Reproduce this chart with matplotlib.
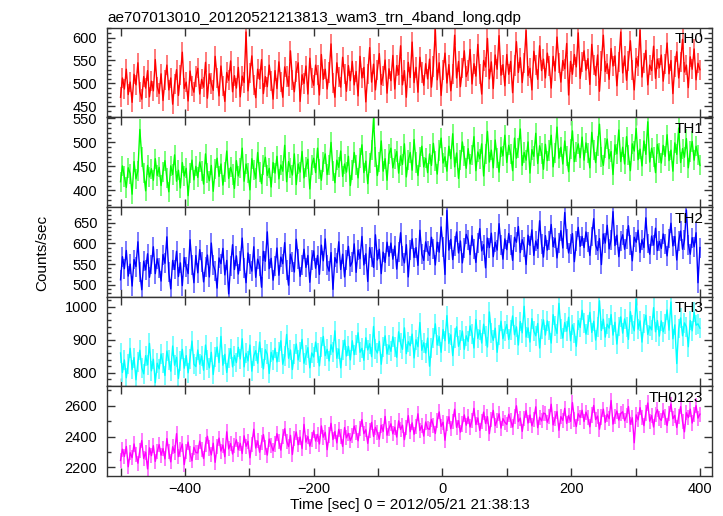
import numpy as np
import matplotlib
matplotlib.use('Agg')
import matplotlib.pyplot as plt
from matplotlib.ticker import MultipleLocator

plt.rcParams['font.family'] = ['Liberation Sans', 'DejaVu Sans']

# light curve, 3 s bins starting at t = -500 s
t_start = -500
t_bin = 3

th0 = [470, 512, 488, 531, 476, 503, 459, 520, 497, 545, 482, 466, 515, 490, 528, 471, 505, 484, 552, 493,
       478, 521, 463, 507, 540, 486, 512, 455, 499, 530, 474, 519, 568, 489, 503, 462, 527, 495, 481, 515,
       533, 477, 509, 492, 546, 468, 521, 500, 485, 559, 512, 473, 538, 495, 461, 524, 507, 549, 482, 517,
       490, 535, 471, 516, 502, 612, 484, 523, 560, 497, 469, 531, 509, 552, 478, 515, 493, 540, 505, 466,
       528, 489, 547, 503, 470, 536, 515, 494, 571, 508, 482, 526, 545, 461, 519, 500, 538, 477, 555, 512,
       496, 540, 518, 475, 563, 509, 531, 488, 524, 586, 501, 470, 545, 514, 492, 557, 520, 483, 539, 506,
       548, 497, 526, 473, 559, 512, 535, 460, 520, 578, 503, 542, 486, 529, 565, 498, 517, 551, 479, 532,
       506, 561, 488, 539, 519, 582, 497, 528, 470, 546, 513, 590, 502, 535, 481, 557, 524, 496, 543, 510,
       553, 492, 537, 618, 508, 545, 474, 529, 566, 501, 541, 484, 520, 605, 512, 548, 493, 533, 571, 515,
       528, 574, 499, 543, 516, 585, 521, 477, 550, 536, 598, 510, 547, 489, 562, 531, 604, 518, 541, 495,
       563, 520, 548, 480, 539, 591, 524, 556, 502, 545, 615, 517, 533, 486, 570, 541, 509, 582, 528, 553,
       512, 566, 538, 490, 559, 527, 601, 544, 503, 550, 532, 587, 475, 548, 520, 563, 536, 610, 511, 546,
       571, 529, 554, 498, 585, 540, 517, 562, 483, 549, 605, 526, 543, 509, 576, 538, 560, 495, 547, 612,
       523, 560, 507, 549, 593, 530, 486, 555, 538, 616, 514, 545, 572, 497, 540, 528, 581, 511, 553, 534,
       562, 505, 543, 588, 521, 550, 478, 537, 569, 512, 546, 596, 525, 540, 491, 558, 531, 575, 508, 544,
       530]

th1 = [418, 451, 429, 406, 447, 435, 392, 460, 424, 441, 527, 470, 437, 399, 452, 428, 445, 421, 466, 431,
       448, 410, 439, 462, 425, 397, 451, 433, 474, 419, 442, 405, 458, 430, 446, 389, 437, 463, 422, 450,
       427, 459, 441, 413, 476, 436, 420, 452, 398, 444, 467, 429, 455, 411, 439, 482, 425, 448, 433, 404,
       462, 430, 447, 488, 419, 455, 437, 401, 466, 443, 425, 479, 438, 414, 452, 469, 431, 446, 407, 458,
       436, 471, 424, 453, 440, 494, 418, 460, 447, 432, 476, 412, 455, 438, 481, 426, 449, 465, 403, 452,
       467, 437, 488, 445, 421, 459, 476, 433, 452, 500, 441, 416, 463, 448, 482, 429, 455, 438, 471, 410,
       443, 479, 452, 426, 468, 495, 437, 461, 414, 457, 484, 550, 470, 431, 459, 503, 440, 466, 421, 475,
       488, 447, 465, 481, 436, 472, 454, 497, 428, 463, 479, 442, 506, 458, 431, 470, 492, 449, 467, 437,
       476, 452, 498, 461, 434, 483, 509, 457, 470, 440, 492, 466, 518, 449, 478, 425, 463, 501, 471, 446,
       487, 455, 473, 512, 441, 480, 466, 497, 430, 476, 523, 459, 484, 447, 505, 468, 438, 490, 472, 515,
       458, 494, 476, 441, 509, 467, 488, 528, 452, 479, 463, 501, 436, 485, 471, 519, 456, 493, 477, 444,
       496, 462, 483, 515, 449, 478, 532, 467, 490, 455, 503, 471, 439, 486, 524, 460, 480, 497, 468, 511,
       463, 499, 478, 447, 521, 484, 458, 493, 538, 470, 452, 489, 507, 466, 481, 433, 495, 476, 526, 460,
       490, 455, 512, 473, 441, 497, 482, 529, 464, 486, 451, 503, 475, 543, 459, 488, 470, 437, 496, 478,
       457, 494, 471, 516, 462, 484, 440, 499, 475, 530, 458, 487, 469, 508, 447, 481, 502, 463, 492, 474,
       452]

th2 = [512, 568, 539, 583, 521, 550, 497, 561, 544, 604, 530, 488, 557, 536, 575, 518, 549, 592, 527, 563,
       541, 509, 573, 552, 616, 530, 490, 559, 537, 581, 520, 553, 498, 566, 544, 527, 609, 548, 505, 571,
       529, 585, 556, 507, 543, 572, 519, 601, 548, 534, 492, 565, 551, 588, 524, 559, 478, 546, 597, 537,
       570, 526, 558, 613, 541, 505, 577, 550, 533, 592, 518, 562, 546, 494, 581, 557, 628, 539, 564, 511,
       545, 589, 523, 567, 551, 602, 536, 499, 574, 555, 531, 610, 563, 520, 548, 586, 542, 571, 506, 559,
       582, 540, 571, 525, 596, 558, 611, 547, 533, 578, 489, 566, 553, 604, 537, 574, 519, 560, 593, 545,
       556, 599, 530, 584, 563, 617, 548, 575, 508, 590, 567, 542, 621, 560, 586, 527, 579, 554, 603, 569,
       601, 562, 594, 538, 579, 626, 570, 553, 597, 519, 584, 611, 566, 590, 547, 632, 575, 559, 604, 582,
       571, 615, 586, 548, 603, 579, 640, 592, 525, 680, 584, 610, 561, 594, 628, 577, 606, 553, 589, 622,
       608, 573, 619, 587, 554, 601, 636, 582, 597, 541, 613, 590, 625, 568, 603, 584, 648, 596, 562, 611,
       585, 624, 597, 559, 615, 603, 641, 578, 609, 592, 549, 620, 595, 633, 571, 606, 588, 655, 598, 567,
       619, 584, 607, 646, 592, 613, 565, 602, 631, 589, 675, 610, 577, 598, 624, 556, 605, 639, 593, 617,
       590, 628, 604, 571, 617, 660, 596, 583, 612, 549, 623, 601, 644, 587, 609, 677, 595, 620, 568, 606,
       621, 586, 610, 643, 597, 558, 615, 603, 632, 578, 609, 590, 662, 600, 574, 618, 596, 637, 583, 605,
       588, 623, 599, 570, 612, 649, 594, 617, 560, 605, 630, 586, 608, 681, 597, 574, 614, 592, 626, 505,
       590]

th3 = [860, 801, 839, 785, 827, 874, 810, 846, 779, 833, 868, 815, 797, 852, 824, 889, 806, 841, 770, 829,
       812, 857, 829, 792, 866, 838, 805, 881, 823, 847, 783, 836, 871, 814, 852, 800, 843, 896, 826, 819,
       869, 826, 851, 808, 884, 839, 815, 862, 795, 847, 878, 831, 910, 823, 856, 801, 844, 873, 818, 852,
       831, 877, 842, 903, 818, 859, 836, 884, 805, 851, 867, 829, 893, 845, 812, 870, 856, 798, 862, 839,
       874, 833, 862, 897, 826, 851, 916, 844, 869, 810, 858, 887, 839, 864, 901, 829, 853, 876, 815, 860,
       848, 893, 861, 821, 879, 910, 852, 871, 836, 885, 863, 927, 844, 872, 815, 868, 899, 851, 880, 839,
       897, 855, 883, 921, 862, 874, 838, 906, 869, 888, 849, 940, 871, 860, 895, 826, 879, 912, 857, 884,
       865, 909, 878, 847, 924, 890, 871, 936, 858, 894, 882, 917, 845, 900, 879, 952, 868, 891, 860, 905,
       820, 876, 905, 948, 884, 910, 862, 931, 897, 973, 889, 915, 852, 906, 939, 880, 899, 926, 871, 912,
       895, 942, 918, 875, 961, 904, 929, 890, 947, 911, 878, 984, 920, 898, 935, 862, 915, 956, 903, 927,
       946, 901, 930, 972, 915, 939, 884, 955, 921, 1001, 908, 936, 893, 964, 926, 912, 949, 875, 933, 960,
       914, 957, 928, 890, 976, 941, 919, 1010, 933, 905, 952, 926, 968, 897, 945, 921, 880, 958, 937, 989,
       951, 917, 944, 983, 922, 956, 899, 939, 1018, 928, 962, 908, 947, 935, 976, 914, 953, 887, 940, 969,
       920, 963, 938, 901, 985, 946, 927, 1022, 932, 957, 893, 949, 974, 916, 941, 930, 997, 924, 958, 911,
       957, 924, 948, 990, 929, 1014, 903, 945, 828, 934, 966, 912, 951, 939, 879, 958, 927, 983, 944, 948,
       935]

th0123 = [2245, 2318, 2271, 2336, 2204, 2295, 2263, 2352, 2281, 2227, 2310, 2374, 2258, 2299, 2190, 2327, 2276, 2341, 2239, 2302,
          2348, 2279, 2322, 2255, 2387, 2301, 2236, 2334, 2296, 2419, 2270, 2315, 2352, 2218, 2306, 2364, 2287, 2243, 2331, 2297,
          2294, 2371, 2315, 2258, 2349, 2402, 2326, 2281, 2357, 2233, 2338, 2390, 2306, 2345, 2269, 2431, 2320, 2355, 2287, 2341,
          2379, 2314, 2356, 2290, 2405, 2337, 2369, 2262, 2351, 2448, 2326, 2372, 2298, 2362, 2413, 2331, 2280, 2384, 2345, 2308,
          2352, 2419, 2366, 2312, 2398, 2451, 2370, 2335, 2408, 2284, 2388, 2430, 2347, 2397, 2322, 2479, 2364, 2401, 2338, 2383,
          2438, 2371, 2414, 2352, 2469, 2396, 2428, 2315, 2410, 2486, 2381, 2433, 2359, 2447, 2400, 2336, 2459, 2392, 2421, 2374,
          2405, 2468, 2427, 2373, 2455, 2510, 2419, 2444, 2356, 2437, 2492, 2401, 2460, 2425, 2383, 2474, 2433, 2531, 2409, 2452,
          2483, 2418, 2461, 2397, 2502, 2446, 2474, 2380, 2457, 2536, 2432, 2489, 2415, 2466, 2548, 2440, 2471, 2403, 2495, 2452,
          2447, 2511, 2472, 2420, 2505, 2560, 2466, 2493, 2376, 2485, 2529, 2451, 2496, 2578, 2460, 2503, 2429, 2482, 2541, 2474,
          2528, 2462, 2507, 2583, 2478, 2521, 2440, 2496, 2559, 2485, 2530, 2419, 2512, 2570, 2471, 2506, 2548, 2455, 2517, 2493,
          2479, 2545, 2506, 2462, 2531, 2600, 2497, 2520, 2434, 2515, 2568, 2488, 2540, 2470, 2512, 2593, 2458, 2526, 2502, 2553,
          2547, 2493, 2528, 2610, 2476, 2519, 2562, 2441, 2530, 2505, 2583, 2486, 2537, 2499, 2621, 2513, 2465, 2548, 2524, 2571,
          2498, 2559, 2521, 2463, 2540, 2602, 2510, 2533, 2448, 2527, 2578, 2492, 2545, 2516, 2634, 2481, 2529, 2566, 2507, 2550,
          2561, 2503, 2534, 2595, 2480, 2522, 2360, 2541, 2509, 2588, 2526, 2471, 2553, 2618, 2500, 2537, 2462, 2544, 2575, 2519,
          2505, 2568, 2527, 2472, 2549, 2611, 2516, 2538, 2459, 2532, 2594, 2497, 2431, 2555, 2523, 2578, 2488, 2541, 2601, 2520,
          2546]

# typical 1-sigma error per band (counts/sec)
errors = [22, 21, 24, 30, 49]

band_names = ['TH0', 'TH1', 'TH2', 'TH3', 'TH0123']
colors = ['#ff0000', '#00ff00', '#0000ff', '#00ffff', '#ff00ff']
err_colors = ['#ff7070', '#70ff70', '#7070ff', '#70ffff', '#ff70ff']
ylims = [(426, 621), (365, 552), (471, 688), (759, 1030), (2144, 2726)]
y_major = [50, 50, 50, 100, 200]
y_minor = [10, 10, 10, 20, 100]


def draw_band(ax, rates, err, color, ecolor):
    t = t_start + t_bin * np.arange(len(rates))
    ax.errorbar(t, rates, yerr=err, fmt='none', ecolor=ecolor,
                elinewidth=1.3, capsize=0)
    ax.plot(t, rates, '-', color=color, lw=1.0)


fig, axes = plt.subplots(5, 1, sharex=True, figsize=(7.23, 5.16), dpi=100)
fig.subplots_adjust(left=0.148, right=0.985, top=0.946, bottom=0.0775,
                    hspace=0)

all_rates = [th0, th1, th2, th3, th0123]
for i in range(5):
    ax = axes[i]
    draw_band(ax, all_rates[i], errors[i], colors[i], err_colors[i])
    ax.set_ylim(ylims[i])
    ax.set_xlim(-521, 419)
    ax.yaxis.set_major_locator(MultipleLocator(y_major[i]))
    ax.yaxis.set_minor_locator(MultipleLocator(y_minor[i]))
    ax.xaxis.set_major_locator(MultipleLocator(200))
    ax.xaxis.set_minor_locator(MultipleLocator(100))
    ax.tick_params(which='both', direction='in', top=True, right=True,
                   labelsize=10.5, width=1.0, colors='#333333',
                   labelcolor='black')
    ax.tick_params(which='major', axis='y', length=6, pad=7)
    ax.tick_params(which='minor', axis='y', length=3)
    ax.tick_params(which='both', axis='x', length=6, pad=4)
    for sp in ax.spines.values():
        sp.set_linewidth(1.0)
        sp.set_color('#333333')
    ax.text(0.985, 0.95, band_names[i], transform=ax.transAxes,
            ha='right', va='top', fontsize=11)

axes[0].set_title('ae707013010_20120521213813_wam3_trn_4band_long.qdp',
                  loc='left', fontsize=11, pad=4)
axes[-1].set_xlabel('Time [sec] 0 = 2012/05/21 21:38:13', fontsize=11,
                    labelpad=2)
fig.text(0.058, 0.51, 'Counts/sec', rotation=90, ha='center', va='center',
         fontsize=11)

plt.savefig('out.png', dpi=100)
